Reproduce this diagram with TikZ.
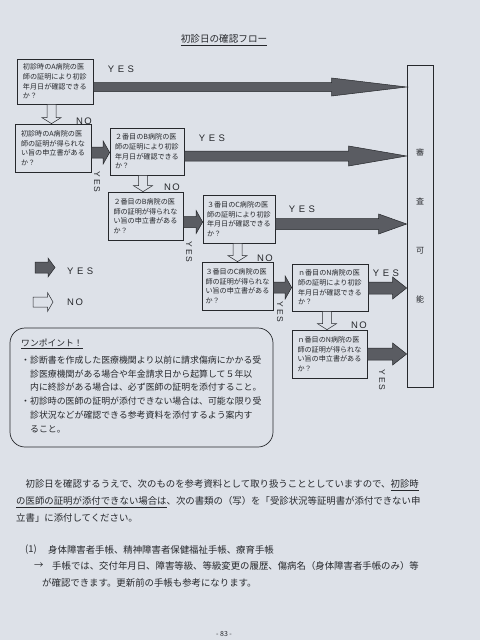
\documentclass[tikz,border=0pt]{standalone}
\usepackage{fontspec}
\setmainfont{Noto Sans CJK JP}
\newfontfamily\lat{Liberation Sans}
\usetikzlibrary{calc}
\definecolor{paper}{HTML}{DDE1E8}
\definecolor{ink}{HTML}{26282C}
\definecolor{arrowfill}{HTML}{5A5C62}
\newcommand\YESs[1]{{\lat Y\hspace{#1}E\hspace{#1}S}}
\newcommand\NOs{{\lat N\hspace{1.5pt}O}}
% horizontal block arrow: start, tip, head length, shaft half, head half, style
\newcommand\blockH[6]{%
 \path[#6] let \p1=(#1), \p2=(#2) in
 (\x1,\y1-#4) -- (\x2-#3,\y1-#4) -- (\x2-#3,\y1-#5) -- (\x2,\y1) --
 (\x2-#3,\y1+#5) -- (\x2-#3,\y1+#4) -- (\x1,\y1+#4) -- cycle;}
% vertical (downward) block arrow
\newcommand\blockV[6]{%
 \path[#6] let \p1=(#1), \p2=(#2) in
 (\x1-#4,\y1) -- (\x1-#4,\y2+#3) -- (\x1-#5,\y2+#3) -- (\x1,\y2) --
 (\x1+#5,\y2+#3) -- (\x1+#4,\y2+#3) -- (\x1+#4,\y1) -- cycle;}
\tikzset{
 qbox/.style={draw=ink, line width=0.7pt, minimum width=75pt, minimum height=47pt,
   text width=64pt, align=left, inner sep=0pt, text=ink,
   font=\fontsize{7.1}{9.6}\selectfont},
 yesarrow/.style={fill=arrowfill, draw=ink, line width=0.5pt, line join=miter},
 noarrow/.style={fill=paper, draw=ink, line width=0.5pt, line join=miter},
 yeslab/.style={text=ink, inner sep=0pt, font=\fontsize{9.5}{10}\selectfont},
 vyes/.style={text=ink, inner sep=0pt, rotate=-90, font=\fontsize{8.5}{9}\selectfont},
 bodytext/.style={text=ink, inner sep=0pt, anchor=west, align=left},
}
\begin{document}
\begin{tikzpicture}[x=1pt,y=-1pt]
\useasboundingbox (0,0) rectangle (480,640);
\fill[paper] (0,0) rectangle (480,640);

% title
\node[text=ink, inner sep=0pt, font=\fontsize{9.6}{11}\selectfont] (T) at (224,40) {\underline{初診日の確認フロー}};

% question boxes
\node[qbox, minimum width=76pt, minimum height=45pt] (A1) at (55,81.5) {初診時のA病院の医\\師の証明により初診\\年月日が確認できる\\か？};
\node[qbox, minimum width=76pt, minimum height=48pt] (A2) at (53,148) {初診時のA病院の医\\師の証明が得られな\\い旨の申立書がある\\か？};
\node[qbox, minimum width=74pt] (B1) at (147,151.5) {２番目のB病院の医\\師の証明により初診\\年月日が確認できる\\か？};
\node[qbox, minimum height=48pt] (B2) at (145.5,216) {２番目のB病院の医\\師の証明が得られな\\い旨の申立書がある\\か？};
\node[qbox, minimum width=72pt, minimum height=48pt] (C1) at (239,219) {３番目のC病院の医\\師の証明により初診\\年月日が確認できる\\か？};
\node[qbox, minimum width=71pt, minimum height=48pt] (C2) at (237.5,286) {３番目のC病院の医\\師の証明が得られな\\い旨の申立書がある\\か？};
\node[qbox, minimum width=76pt] (N1) at (330,287.5) {ｎ番目のN病院の医\\師の証明により初診\\年月日が確認できる\\か？};
\node[qbox, minimum height=48pt] (N2) at (329.5,354) {ｎ番目のN病院の医\\師の証明が得られな\\い旨の申立書がある\\か？};

% result box
\node[draw=ink, line width=0.7pt, minimum width=26pt, minimum height=322pt, align=center,
  inner sep=0pt, text=ink, font=\fontsize{8}{49}\selectfont] (RB) at (420,226) {審\\査\\可\\能};

% YES arrows to result box
\blockH{[yshift=-5.5pt]A1.east}{RB.west}{75pt}{4.5pt}{9pt}{yesarrow}
\blockH{[yshift=-4.5pt]B1.east}{RB.west}{58pt}{5pt}{10pt}{yesarrow}
\blockH{[yshift=-5pt]C1.east}{RB.west}{28pt}{5.5pt}{10pt}{yesarrow}
\blockH{[yshift=-0.5pt]N1.east}{RB.west}{14pt}{6pt}{11pt}{yesarrow}
\blockH{N2.east}{RB.west}{14pt}{6pt}{11pt}{yesarrow}

% YES arrows between columns
\blockH{[yshift=-4.5pt]A2.east}{B1.west}{6.5pt}{5.5pt}{11.5pt}{yesarrow}
\blockH{[yshift=-6pt]B2.east}{C1.west}{6.5pt}{5.5pt}{11.5pt}{yesarrow}
\blockH{[yshift=-1.5pt]C2.east}{N1.west}{6.5pt}{5.5pt}{11.5pt}{yesarrow}

% NO arrows (down)
\blockV{[xshift=-3.5pt]A1.south}{A2.north}{6pt}{4.5pt}{9.5pt}{noarrow}
\blockV{[xshift=-4pt]B1.south}{B2.north}{6pt}{4.5pt}{9.5pt}{noarrow}
\blockV{[xshift=-1.5pt]C1.south}{C2.north}{6pt}{4.5pt}{9.5pt}{noarrow}
\blockV{[xshift=-3pt]N1.south}{N2.north}{6pt}{4.5pt}{9.5pt}{noarrow}

% labels
\node[yeslab] (y1) at (121,69) {\YESs{3.5pt}};
\node[yeslab] (y2) at (212,138) {\YESs{3.5pt}};
\node[yeslab] (y3) at (302,209) {\YESs{3.5pt}};
\node[yeslab] (y4) at (386,273) {\YESs{3.5pt}};
\node[yeslab] (n1) at (84,121) {\NOs};
\node[yeslab] (n2) at (172,187) {\NOs};
\node[yeslab] (n3) at (265,258) {\NOs};
\node[yeslab] (n4) at (359,325) {\NOs};
\node[vyes] (v1) at (97,182) {\YESs{2pt}};
\node[vyes] (v2) at (189,252) {\YESs{2pt}};
\node[vyes] (v3) at (280,312) {\YESs{2pt}};
\node[vyes] (v4) at (382,380) {\YESs{2pt}};

% legend
\coordinate (LY1) at (35,267.5);
\coordinate (LY2) at (55,267.5);
\coordinate (LN1) at (33,302);
\coordinate (LN2) at (53,302);
\blockH{LY1}{LY2}{7pt}{5.5pt}{9.5pt}{yesarrow}
\blockH{LN1}{LN2}{5.5pt}{5pt}{9.5pt}{noarrow}
\node[yeslab, anchor=west] (LYt) at (67,271) {\YESs{3.5pt}};
\node[yeslab, anchor=west] (LNt) at (67,302) {\NOs};

% one point box
\node[draw=ink, line width=0.7pt, rounded corners=15pt, minimum width=263pt, minimum height=119pt] (OP) at (141.5,387.5) {};
\node[bodytext, font=\fontsize{8.8}{10}\selectfont] (OPt) at (21,344) {\underline{ワンポイント！}};
\node[bodytext, anchor=north west, font=\fontsize{8.9}{13.8}\selectfont] (OPb) at (21,355.5)
 {・診断書を作成した医療機関より以前に請求傷病にかかる受\\
  \hspace*{1em}診医療機関がある場合や年金請求日から起算して５年以\\
  \hspace*{1em}内に終診がある場合は、必ず医師の証明を添付すること。\\
  ・初診時の医師の証明が添付できない場合は、可能な限り受\\
  \hspace*{1em}診状況などが確認できる参考資料を添付するよう案内す\\
  \hspace*{1em}ること。};

% paragraph
\node[bodytext, anchor=north west, font=\fontsize{9.4}{17}\selectfont] (P) at (16,479.5)
 {\hspace*{1em}初診日を確認するうえで、次のものを参考資料として取り扱うこととしていますので、\underline{初診時}\\
  \underline{の医師の証明が添付できない場合は}、次の書類の（写）を「受診状況等証明書が添付できない申\\
  立書」に添付してください。};

\node[bodytext, font=\fontsize{9.4}{11}\selectfont] (L1a) at (25,550) {(1)};
\node[bodytext, font=\fontsize{9.4}{11}\selectfont] (L1b) at (48,550) {身体障害者手帳、精神障害者保健福祉手帳、療育手帳};
\node[bodytext, font=\fontsize{9.4}{11}\selectfont] (L2a) at (34,566) {→};
\node[bodytext, font=\fontsize{9.4}{11}\selectfont] (L2b) at (52,566) {手帳では、交付年月日、障害等級、等級変更の履歴、傷病名（身体障害者手帳のみ）等};
\node[bodytext, font=\fontsize{9.4}{11}\selectfont] (L3) at (42,583) {が確認できます。更新前の手帳も参考になります。};
\node[text=ink, inner sep=0pt, font=\fontsize{7}{8}\selectfont] (pg) at (224,634) {- 83 -};
\end{tikzpicture}
\end{document}
